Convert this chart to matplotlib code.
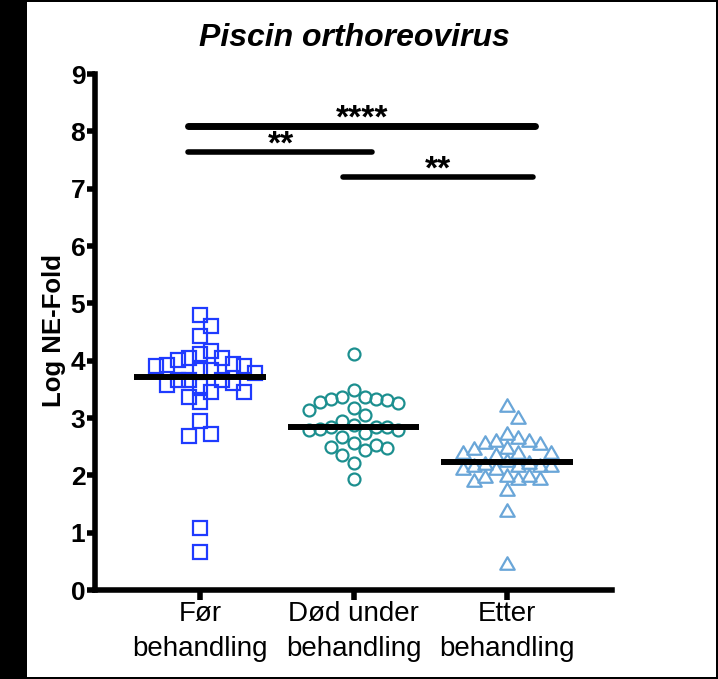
import numpy as np
import matplotlib
matplotlib.use('Agg')
import matplotlib.pyplot as plt
from matplotlib.patches import Rectangle
from matplotlib.path import Path

plt.rcParams['font.family'] = ['Liberation Sans', 'DejaVu Sans']

# log NE-fold values per group
groups = ['Før\nbehandling', 'Død under\nbehandling', 'Etter\nbehandling']
for_vals = [4.80, 4.61, 4.43,
            3.90, 3.92, 4.16, 3.61, 3.95, 3.66, 3.28, 4.01, 3.66, 3.46,
            3.84, 3.55, 3.90, 3.66, 3.37, 4.04, 3.78, 3.46, 4.12, 3.84,
            3.58, 4.04,
            2.94, 2.72, 2.69, 1.08, 0.66]
dod_vals = [4.12, 3.49, 3.33, 3.31, 3.28, 3.34, 3.36, 3.36, 3.27, 3.14,
            3.17, 3.05, 2.95, 2.73, 2.79, 2.85, 2.85, 2.85, 2.67, 2.79,
            2.88, 2.81, 2.44, 2.47, 2.50, 2.35, 2.53, 2.56, 2.21, 1.93]
etter_vals = [3.23, 3.02, 2.50, 2.59, 2.67, 2.62, 2.62, 2.73, 2.41, 2.38,
              2.56, 2.41, 2.41, 2.47, 2.18, 2.18, 2.12, 2.21, 2.24, 2.18,
              2.18, 2.12, 2.27, 1.92, 1.95, 2.01, 1.95, 2.01, 1.98, 1.77,
              1.40, 0.47]

# significance brackets: (x start, x end, height, stars)
sig_bars = [(0.922, 3.18, 8.09, '****'),
            (0.922, 2.12, 7.64, '**'),
            (1.93, 3.17, 7.20, '**')]
star_x = [2.055, 1.53, 2.55]

colors = ['#1f3bff', '#1c8f8f', '#6aa6d8']
tri = Path([(-1, -0.866), (1, -0.866), (0, 0.866), (-1, -0.866)],
           [Path.MOVETO, Path.LINETO, Path.LINETO, Path.CLOSEPOLY])
markers = ['s', 'o', tri]
msizes = [10.0, 8.6, 10.4]
gaps = [0.27, 0.27, 0.22]


def swarm(vals, center, step=0.072, gap=0.27):
    # pack points into fixed columns, nearest column to the centre first
    vals = np.asarray(vals)
    xs = np.zeros(len(vals))
    placed = []
    for i in np.argsort(-vals):
        for k in [0, 1, -1, 2, -2, 3, -3, 4, -4, 5, -5, 6, -6]:
            if all(not (c == k and abs(vals[i] - yy) < gap) for c, yy in placed):
                break
        placed.append((k, vals[i]))
        xs[i] = center + k * step
    return xs


fig = plt.figure(figsize=(7.18, 6.79), dpi=100)
ax = fig.add_axes([95/718, 89/679, 517/718, 516/679])

for i, vals in enumerate([for_vals, dod_vals, etter_vals]):
    pos = i + 1
    xs = swarm(vals, pos, gap=gaps[i])
    ax.plot(xs, vals, ls='none', marker=markers[i], ms=msizes[i],
            mfc='none', mec=colors[i], mew=1.6, zorder=2)
    med = np.median(vals)
    ax.plot([pos - 0.427, pos + 0.427], [med, med], color='black',
            lw=4.3, solid_capstyle='butt', zorder=3)

for j, (x0, x1, h, stars) in enumerate(sig_bars):
    ax.plot([x0, x1], [h, h], color='black', lw=5 if j == 0 else 4,
            solid_capstyle='round', zorder=3)
    ax.text(star_x[j], h - 0.02, stars, ha='center',
            va='baseline', fontsize=24, fontweight='bold')

ax.set_xlim(0.316, 3.684)
ax.set_ylim(0, 9)
ax.set_yticks(range(10))
ax.set_xticks([1, 2, 3])
ax.set_xticklabels(groups, fontsize=20, linespacing=1.45)
for lab in ax.get_yticklabels():
    lab.set_fontsize(19)
    lab.set_fontweight('bold')
ax.tick_params(axis='y', length=6, width=4, pad=1)
ax.tick_params(axis='x', length=7, width=4, pad=1)
for s in ['top', 'right']:
    ax.spines[s].set_visible(False)
for s in ['left', 'bottom']:
    ax.spines[s].set_linewidth(4)

fig.text(54/718, 1 - 330/679, 'Log NE-Fold', rotation=90, ha='center',
         va='center', fontsize=18.5, fontweight='bold')
fig.text(354/718, 1 - 46/679, 'Piscin orthoreovirus', ha='center',
         va='baseline', fontsize=23, fontweight='bold', style='italic')

# black frame around the figure
fw, fh = 718, 679
for (x, y, w, h) in [(0, 0, 27, fh), (0, fh - 2, fw, 2),
                     (fw - 2, 0, 2, fh), (0, 0, fw, 2)]:
    fig.add_artist(Rectangle((x / fw, y / fh), w / fw, h / fh,
                             transform=fig.transFigure, color='black',
                             lw=0))

fig.savefig('out.png', dpi=100)
